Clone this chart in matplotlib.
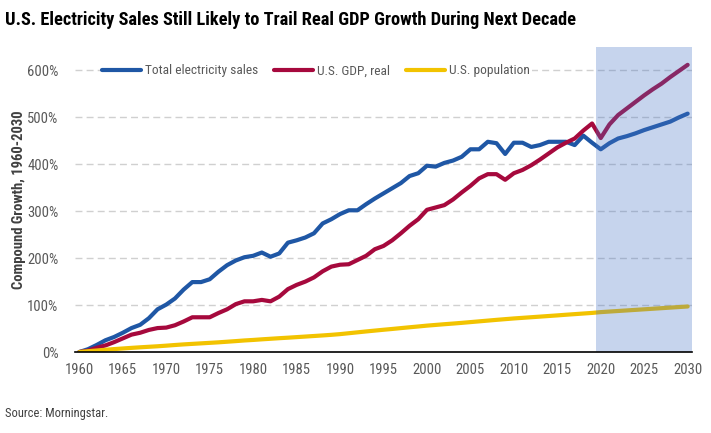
import matplotlib
matplotlib.use("Agg")
import matplotlib.pyplot as plt
from matplotlib import font_manager as fm

years = list(range(1960, 2031))

electricity = [0, 6, 15, 25, 32, 41, 51, 58, 72, 91, 101, 114, 133, 149, 149, 155, 171, 185, 195, 202,
               205, 212, 203, 210, 233, 238, 244, 253, 274, 283, 294, 302, 302, 315, 327, 338, 349, 360, 375, 381,
               397, 395, 403, 408, 416, 432, 432, 448, 445, 422, 446, 446, 437, 441, 448, 448, 448, 441, 461, 446,
               432, 445, 455, 460, 466, 473, 479, 485, 491, 500, 508]

gdp = [0, 3, 9, 14, 21, 29, 37, 41, 47, 51, 52, 57, 65, 74, 74, 74, 83, 91, 102, 108,
       108, 111, 108, 118, 134, 143, 150, 159, 172, 182, 186, 187, 196, 205, 219, 226, 238, 253, 269, 283,
       303, 308, 313, 325, 340, 354, 370, 379, 379, 367, 381, 388, 398, 410, 423, 436, 446, 455, 472, 487,
       456, 485, 505, 519, 533, 547, 560, 572, 586, 599, 612]

population = [0, 1.7, 3.2, 4.7, 6.2, 7.5, 8.8, 10.0, 11.1, 12.2, 13.5, 14.9, 16.2, 17.3, 18.4, 19.5, 20.6, 21.9, 23.2, 24.6,
              25.7, 27.0, 28.2, 29.4, 30.5, 31.7, 32.9, 34.1, 35.3, 36.6, 38.1, 40.0, 41.9, 43.8, 45.6, 47.4, 49.1, 50.9, 52.7, 54.4,
              56.2, 57.7, 59.2, 60.6, 62.1, 63.7, 65.3, 66.9, 68.5, 70.0, 71.5, 72.8, 74.1, 75.4, 76.7, 78.0, 79.4, 80.7, 82.0, 83.3,
              85.0, 86.2, 87.4, 88.6, 89.8, 91.0, 92.2, 93.4, 94.6, 95.8, 97.0]

series_names = ["Total electricity sales", "U.S. GDP, real", "U.S. population"]
x_ticks = list(range(1960, 2031, 5))
y_ticks = [0, 100, 200, 300, 400, 500, 600]
forecast_start, forecast_end = 2020, 2030

# pick a condensed font if available
def pick(cands):
    for c in cands:
        try:
            fm.findfont(fm.FontProperties(family=c), fallback_to_default=False)
            return c
        except Exception:
            pass
    return "DejaVu Sans"

FONT = pick(["Liberation Sans Narrow", "Roboto Condensed", "DejaVu Sans Condensed", "Liberation Sans"])
plt.rcParams['font.family'] = [FONT, 'DejaVu Sans']

fig = plt.figure(figsize=(7.11, 4.33), dpi=100)
ax = fig.add_axes([75/711, 1-352/433, 617/711, 305/433])

colors = ["#1F57A5", "#A6093D", "#F2C300"]
for vals, c, name in zip([electricity, gdp, population], colors, series_names):
    ax.plot(years, vals, color=c, lw=3.0, label=name, solid_capstyle='round', zorder=3)

ax.axvspan(forecast_start - 0.5, forecast_end + 0.5, color="#4472C4", alpha=0.3, lw=0, zorder=5)

ax.set_xlim(1959.5, 2030.5)
ax.set_ylim(0, 650)
ax.set_xticks(x_ticks)
ax.set_xticklabels([str(t) for t in x_ticks])
ax.set_yticks(y_ticks)
ax.set_yticklabels([f"{t}%" for t in y_ticks])
ax.tick_params(axis='both', length=0, labelsize=10.5, colors="#595959")
ax.tick_params(axis='y', pad=12)
ax.tick_params(axis='x', pad=8)

for y in y_ticks[1:]:
    ax.axhline(y, color="#D0D0D0", lw=1.0, dashes=(5, 3), zorder=1)

for s in ['top', 'right', 'left']:
    ax.spines[s].set_visible(False)
ax.spines['bottom'].set_color('black')
ax.spines['bottom'].set_linewidth(1.2)
ax.spines['bottom'].set_zorder(6)

ax.set_ylabel("Compound Growth, 1960-2030", fontsize=10.5, fontweight='bold', color="#404040")
ax.yaxis.set_label_coords(-0.080, 0.5)

leg = ax.legend(loc='center left', bbox_to_anchor=(0.040, 0.922), ncol=3, frameon=True,
                fontsize=9.6, handlelength=2.9, handletextpad=0.3, columnspacing=1.2,
                borderpad=0.2, borderaxespad=0)
leg.get_frame().set_facecolor('white')
leg.get_frame().set_edgecolor('none')
leg.get_frame().set_alpha(1)
for t in leg.get_texts():
    t.set_color("#595959")
leg.set_zorder(4)

fig.text(5/711, 1-20/433, "U.S. Electricity Sales Still Likely to Trail Real GDP Growth During Next Decade",
         fontsize=13.2, fontweight='bold', color='black', ha='left', va='center')
fig.text(5/711, 1-413/433, "Source: Morningstar.", fontsize=9, color="#404040", ha='left', va='center')

fig.savefig("out.png", dpi=100)
